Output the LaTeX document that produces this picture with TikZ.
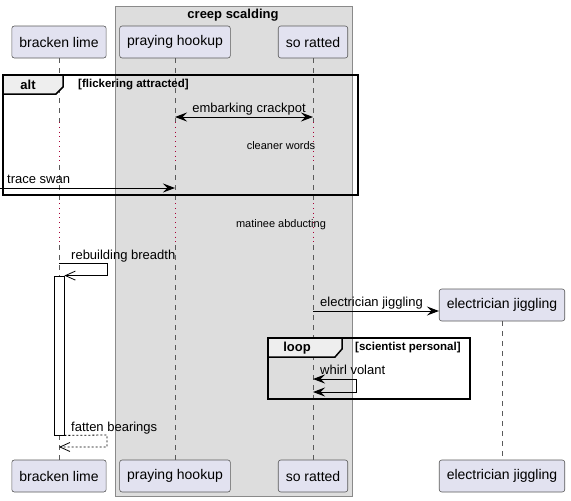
\documentclass[tikz,border=0pt]{standalone}
\usepackage{fontspec}
\setmainfont{Liberation Sans}
\usetikzlibrary{arrows.meta}
\definecolor{partfill}{HTML}{E2E2F0}
\definecolor{partline}{HTML}{5A5A5A}
\definecolor{boxfill}{HTML}{DDDDDD}
\definecolor{boxline}{HTML}{8A8A8A}
\definecolor{tabfill}{HTML}{EEEEEE}
\definecolor{delayred}{HTML}{A80036}

\begin{document}
\begin{tikzpicture}
        [x=1pt,y=-1pt,
         part/.style={draw=partline,line width=0.6pt,fill=partfill,rounded corners=2.5pt,
                      minimum height=32pt,inner xsep=7.5pt,font=\fontsize{14}{16}\selectfont},
         life/.style={draw=partline,line width=0.6pt,dash pattern=on 5pt off 5pt},
         delay/.style={draw=delayred,line width=0.8pt,dash pattern=on 0.8pt off 4pt},
         msg/.style={line width=1pt,-{Stealth[length=12pt,width=9pt,inset=4.5pt]}},
         bimsg/.style={line width=1pt,{Stealth[length=12pt,width=9pt,inset=4.5pt]}-{Stealth[length=12pt,width=9pt,inset=4.5pt]}},
         openmsg/.style={line width=0.8pt,-{Straight Barb[length=10pt,width=9pt]}},
         frame/.style={line width=1.5pt,draw=black},
         lbl/.style={inner sep=0pt,anchor=base west,font=\fontsize{13}{15}\selectfont},
         note/.style={inner sep=0pt,font=\fontsize{11}{13}\selectfont},
         guard/.style={inner sep=0pt,anchor=west,font=\bfseries\fontsize{11.5}{13}\selectfont},
         kind/.style={inner sep=0pt,font=\bfseries\fontsize{13}{15}\selectfont}]
        \useasboundingbox (0,0) rectangle (571,501);

        % box round the two inner participants
        \draw[draw=boxline,fill=boxfill,line width=0.8pt] (115,6) rectangle (352,496);
        \node[kind] (grp) at (233,15) {creep scalding};

        \node[part] (lime) at (59,42) {bracken lime};
        \node[part] (hookup) at (175,42) {praying hookup};
        \node[part] (ratted) at (313,42) {so ratted};
        \node[part] (limeB) at (59,476) {bracken lime};
        \node[part] (hookupB) at (175,476) {praying hookup};
        \node[part] (rattedB) at (313,476) {so ratted};
        \node[part] (elec) at (502,305) {electrician jiggling};
        \node[part] (elecB) at (502,476) {electrician jiggling};

        % lifelines, dotted where the delays are
        \coordinate (dA) at (0,122);
        \coordinate (dB) at (0,165);
        \coordinate (dC) at (0,203);
        \coordinate (dD) at (0,245);
        \foreach \p in {lime, hookup, ratted} {
            \draw[life] (\p.south) -- (\p.south |- dA);
            \draw[delay] (\p.south |- dA) -- (\p.south |- dB);
            \draw[life] (\p.south |- dB) -- (\p.south |- dC);
            \draw[delay] (\p.south |- dC) -- (\p.south |- dD);
            \draw[life] (\p.south |- dD) -- (\p B.north);
        }
        \draw[life] (elec.south) -- (elecB.north);

        % alt frame
        \draw[frame] (3,75) rectangle (358,195);
        \draw[frame,fill=tabfill] (3,75) -- (63,75) -- (63,87) -- (56,94) -- (3,94) -- cycle;
        \node[kind] (alt) at (28,85) {alt};
        \node[guard] (altg) at (78,85) {[flickering attracted]};

        \coordinate (ec1) at (175,117);
        \coordinate (ec2) at (313,117);
        \draw[bimsg] (ec1) -- (ec2);
        \node[lbl,anchor=base] (ecl) at (249,112) {embarking crackpot};

        \node[note] (cw) at (281,146) {cleaner words};

        \coordinate (ts1) at (0,188);
        \coordinate (ts2) at (175,188);
        \draw[msg] (ts1) -- (ts2);
        \node[lbl] (tsl) at (7,183) {trace swan};

        \node[note] (ma) at (281,225) {matinee abducting};

        % activation of bracken lime
        \node[draw,fill=white,line width=0.8pt,minimum width=10pt,minimum height=159pt,inner sep=0pt] (act) at (59,355.5) {};

        \coordinate (rb1) at (59,263);
        \draw[openmsg] (rb1) -- (107,263) |- (act.north east);
        \node[lbl] (rbl) at (71,259) {rebuilding breadth};

        \coordinate (ej1) at (313,311);
        \draw[msg] (ej1) -- (ej1 -| elec.west);
        \node[lbl] (ejl) at (320,306) {electrician jiggling};

        % loop frame
        \draw[frame] (268,338) rectangle (470,399);
        \draw[frame,fill=tabfill] (268,338) -- (342,338) -- (342,349) -- (335,357) -- (268,357) -- cycle;
        \node[kind] (loop) at (297,348) {loop};
        \node[guard] (loopg) at (355,348) {[scientist personal]};

        \coordinate (wv1) at (313,379);
        \coordinate (wv2) at (313,392);
        \draw[bimsg] (wv1) -- (356,379) |- (wv2);
        \node[lbl] (wvl) at (320,374) {whirl volant};

        \coordinate (fb2) at (59,447);
        \draw[openmsg,dash pattern=on 2pt off 2pt] (act.south east) -- (107,435) |- (fb2);
        \node[lbl] (fbl) at (71,431) {fatten bearings};

      \end{tikzpicture}
\end{document}
